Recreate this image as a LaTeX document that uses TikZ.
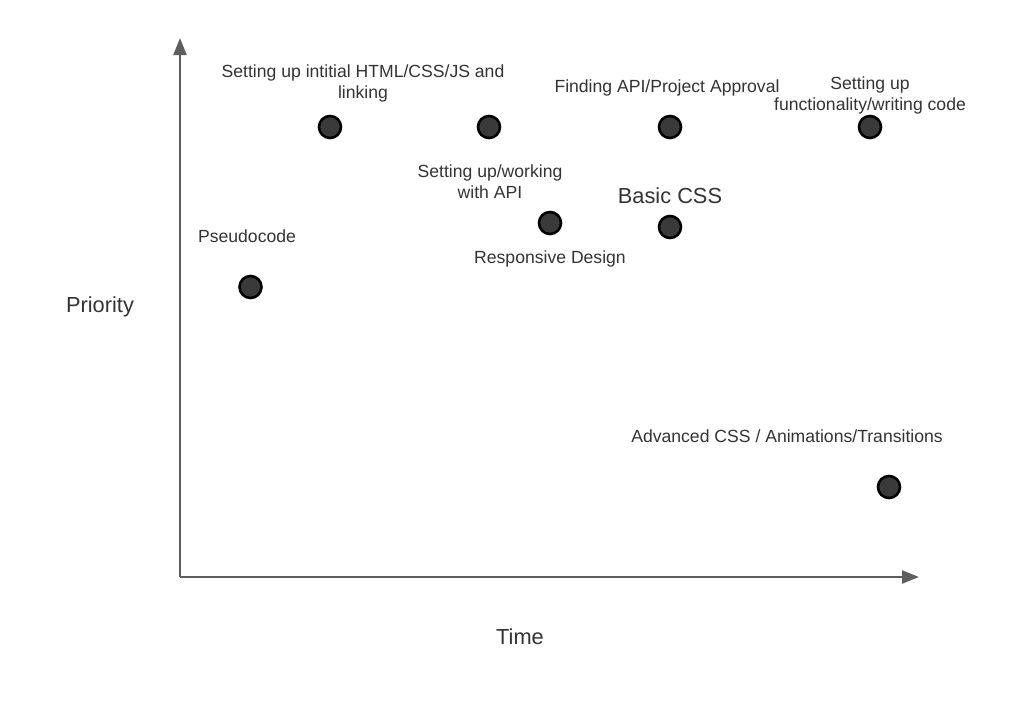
\documentclass[tikz,border=0pt]{standalone}
\usepackage{fontspec}
\setmainfont{Liberation Sans}
\usetikzlibrary{arrows.meta,positioning}

\definecolor{axisgray}{HTML}{5E5E5E}
\definecolor{dotfill}{HTML}{3A3A3A}
\definecolor{textgray}{HTML}{333333}

\begin{document}
\begin{tikzpicture}[
  x=1pt,y=-1pt,
  task/.style={circle,draw=black,line width=2.6pt,fill=dotfill,minimum size=22pt,inner sep=0pt},
  tasklabel/.style={text=textgray,align=center,inner sep=0pt,font=\fontsize{17.6}{21}\selectfont},
  axislabel/.style={text=textgray,inner sep=0pt,font=\fontsize{21.8}{25}\selectfont},
  axis/.style={-{Triangle[length=17pt,width=13pt]},draw=axisgray,line width=2.2pt}
]
  \useasboundingbox (0,0) rectangle (1029,707);

  % axes
  \coordinate (origin) at (180,577);
  \coordinate (ytip) at (180,38);
  \coordinate (xtip) at (919,577);
  \draw[axis] (origin) -- (ytip);
  \draw[axis] (origin) -- (xtip);
  \node[axislabel] (priority) at (100,307) {Priority};
  \node[axislabel] (time) at (520,637) {Time};

  % tasks
  \node[task] (pseudo) at (250.5,287) {};
  \node[task] (setup) at (330,127) {};
  \node[task] (apiwork) at (489,127) {};
  \node[task] (approval) at (670,127) {};
  \node[task] (coding) at (870,127) {};
  \node[task] (responsive) at (550,223) {};
  \node[task] (basiccss) at (670,227) {};
  \node[task] (advcss) at (889,487) {};

  % labels
  \node[tasklabel] (pseudolbl) at (247,236) {Pseudocode};
  \node[tasklabel] (setuplbl) at (363,83) {Setting up intitial HTML/CSS/JS and\\linking};
  \node[tasklabel] (apiworklbl) at (490,182) {Setting up/working\\with API};
  \node[tasklabel] (approvallbl) at (667,88) {Finding API/Project Approval};
  \node[tasklabel] (codinglbl) at (870,95) {Setting up\\functionality/writing code};
  \node[tasklabel] (responsivelbl) at (550,259) {Responsive Design};
  \node[axislabel] (basiccsslbl) at (670,196) {Basic CSS};
  \node[tasklabel] (advcsslbl) at (787,436) {Advanced CSS / Animations/Transitions};
\end{tikzpicture}
\end{document}
